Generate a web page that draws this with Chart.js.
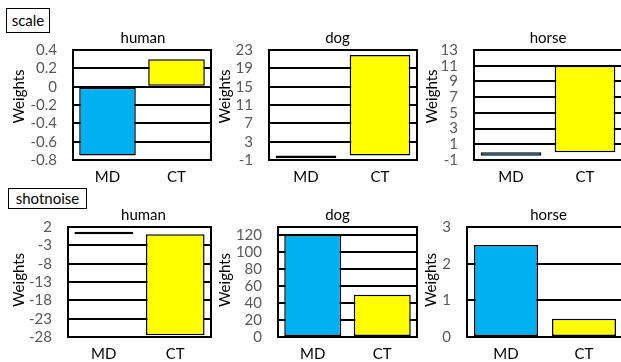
<!DOCTYPE html>
<html><head><meta charset="utf-8">
<script src="https://cdn.jsdelivr.net/npm/chart.js@4"></script>
<style>
html,body{margin:0;padding:0;background:#fff;overflow:hidden;width:621px;height:362px;position:relative;}
.cv{position:absolute;}
.tag{position:absolute;border:1px solid #000;font:15px Lato;color:#000;background:#fff;box-sizing:border-box;text-align:center;z-index:5;}
</style></head><body>
<script>
// ---- data ----
const groups = ['scale', 'shotnoise'];
const animals = ['human', 'dog', 'horse'];
const categories = ['MD', 'CT'];
const yLabel = 'Weights';
const scaleMD = [-0.75, -0.6, -0.45];
const scaleCT = [0.3, 21.9, 11.0];
const shotMD = [0.7, 120.5, 2.51];
const shotCT = [-27.5, 50, 0.5];
const scaleTicks = [[-0.8,-0.6,-0.4,-0.2,0,0.2,0.4],[-1,3,7,11,15,19,23],[-1,1,3,5,7,9,11,13]];
const shotTicks = [[-28,-23,-18,-13,-8,-3,2],[0,20,40,60,80,100,120],[0,1,2,3]];
const scaleRange = [[-0.8,0.4],[-1,23],[-1,13]];
const shotRange = [[-28,2],[0,130],[0,3]];
const barColors = ['#00B0F0', '#FFFF00'];

// ---- layout (page pixels) ----
const L = {
  canvasTop:[20,190], canvasBottom:[185,362], plotTop:[50,227], plotBottom:[162,339], titleY:[38,215],
  colLeft:[0,205,410],
  plotLeft:[[73,269,474],[68,278,467]],
  plotRight:[[211,417,622],[211,417,623]],
  titleX:[[143,337.5,548],[143.5,337.5,548.3]],
  labelX:[[19,20,21.7],[19,20,21.5]],
  labelDy:[-8.5,-2],
  tagBox:[[6,8,44,25],[8,188,79,21]]
};
const TITLE_SIZE = 15, TICK_SIZE = 15;

Chart.defaults.font.family = 'Lato';

const frame = { id:'frame', afterDatasetsDraw(chart){
  const a = chart.chartArea, c = chart.ctx;
  c.save(); c.strokeStyle = '#000'; c.lineWidth = 2;
  c.strokeRect(a.left, a.top, a.right - a.left, a.bottom - a.top); c.restore();
}};
const ylab = { id:'ylab', afterDraw(chart, args, o){
  const a = chart.chartArea, c = chart.ctx;
  c.save(); c.translate(o.x, (a.top + a.bottom) / 2 + o.dy); c.rotate(-Math.PI / 2);
  c.font = TITLE_SIZE + 'px Lato'; c.fillStyle = '#000'; c.textAlign = 'center'; c.textBaseline = 'middle';
  c.fillText(o.text, 0, 0); c.restore();
}};

const rows = [
  {md: scaleMD, ct: scaleCT, ticks: scaleTicks, range: scaleRange},
  {md: shotMD, ct: shotCT, ticks: shotTicks, range: shotRange}
];

groups.forEach((g, r) => {
  const b = L.tagBox[r];
  const tag = document.createElement('div');
  tag.className = 'tag'; tag.textContent = g;
  tag.style.left = b[0] + 'px'; tag.style.top = b[1] + 'px';
  tag.style.width = b[2] + 'px'; tag.style.height = b[3] + 'px'; tag.style.lineHeight = (b[3] - 2) + 'px';
  document.body.appendChild(tag);

  animals.forEach((an, c) => {
    const row = rows[r];
    const left = L.colLeft[c], top = L.canvasTop[r];
    const w = Math.round(2 * (L.titleX[r][c] - left));
    const h = L.canvasBottom[r] - top;
    const cv = document.createElement('canvas');
    cv.className = 'cv'; cv.width = w; cv.height = h;
    cv.style.left = left + 'px'; cv.style.top = top + 'px';
    cv.style.width = w + 'px'; cv.style.height = h + 'px';
    document.body.appendChild(cv);
    const lh = TITLE_SIZE * 1.2;
    const padTop = L.titleY[r] - top - lh / 2;
    const padBot = L.plotTop[r] - top - padTop - lh;
    const yW = L.plotLeft[r][c] - left;
    const rW = w - (L.plotRight[r][c] - left);
    const xH = L.canvasBottom[r] - L.plotBottom[r];
    const ticks = row.ticks[c];
    new Chart(cv, {
      type: 'bar',
      data: { labels: categories, datasets: [{
        data: [row.md[c], row.ct[c]],
        backgroundColor: barColors, borderColor: '#000', borderWidth: 1.5, borderSkipped: false,
        barPercentage: 0.82, categoryPercentage: 1
      }]},
      options: {
        responsive: false, animation: false, devicePixelRatio: 1,
        layout: { padding: 0 },
        plugins: {
          legend: { display: false }, tooltip: { enabled: false },
          title: { display: true, text: an, color: '#000', font: { family: 'Lato', size: TITLE_SIZE, weight: 'normal' },
                   padding: { top: padTop, bottom: padBot } },
          ylab: { text: yLabel, x: L.labelX[r][c], dy: L.labelDy[r] }
        },
        scales: {
          x: { type: 'category', offset: true,
               grid: { display: false, drawTicks: false }, border: { display: false },
               afterFit: s => { s.height = xH; },
               ticks: { color: '#000', padding: 8, font: { family: 'Lato', size: TITLE_SIZE } } },
          y: { min: row.range[c][0], max: row.range[c][1], bounds: 'data',
               afterBuildTicks: s => { s.ticks = ticks.map(v => ({ value: v })); },
               afterFit: s => { s.width = yW; },
               grid: { color: '#000', lineWidth: 2, drawTicks: false }, border: { display: false },
               ticks: { autoSkip: false, padding: 16, color: '#595959', font: { family: 'Lato', size: TICK_SIZE },
                        callback: v => String(v) } },
          spacer: { type: 'linear', position: 'right', display: true,
               grid: { display: false, drawTicks: false }, border: { display: false },
               ticks: { display: false }, afterFit: s => { s.width = rW; } }
        }
      },
      plugins: [frame, ylab]
    });
  });
});
</script>
</body></html>
